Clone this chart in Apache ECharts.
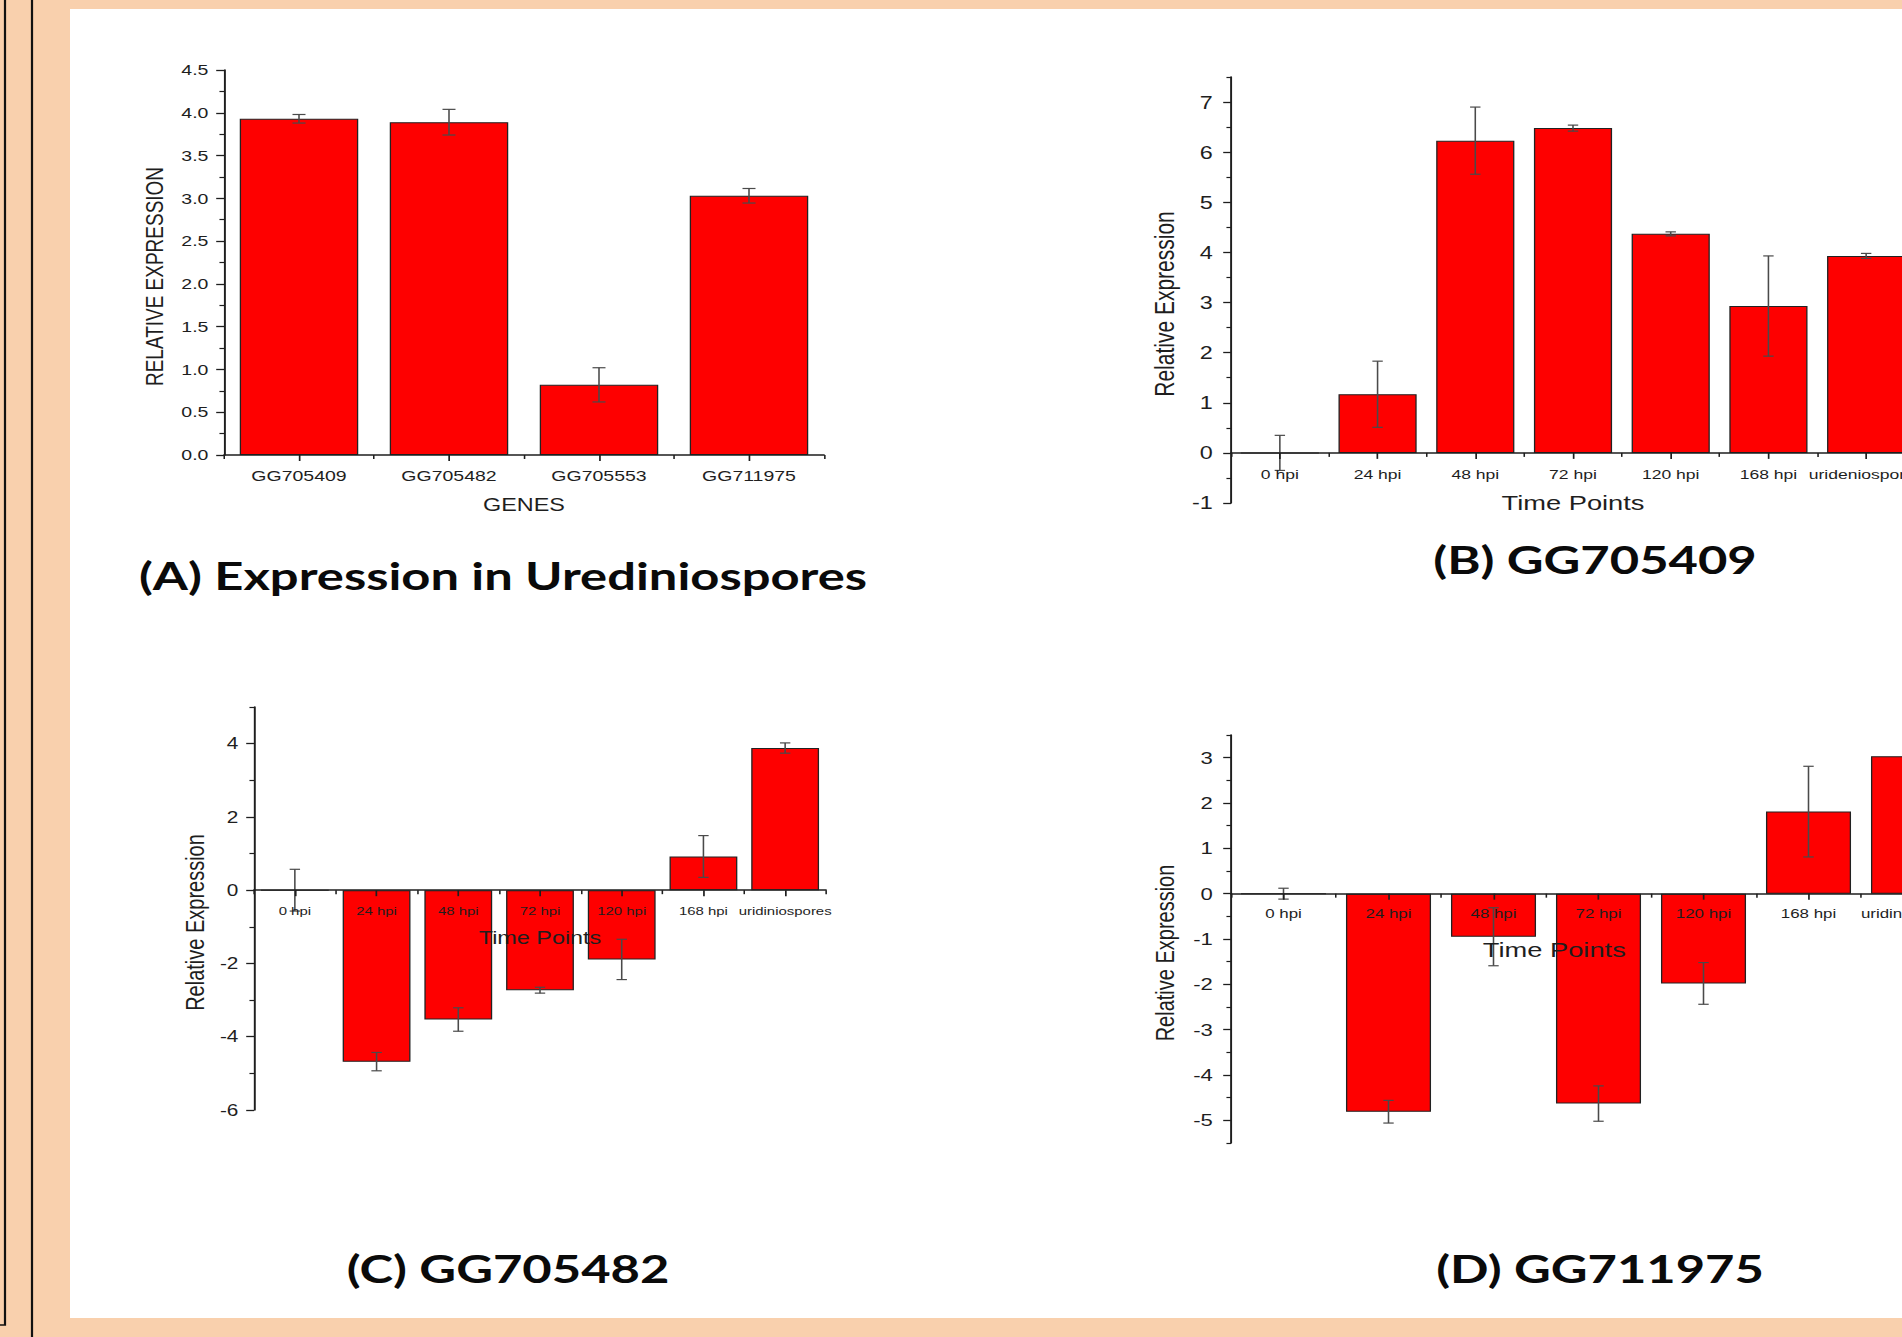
<!DOCTYPE html>
<html>
<head>
<meta charset="utf-8">
<title>Relative expression of candidate genes</title>
<script src="https://cdn.jsdelivr.net/npm/echarts@6/dist/echarts.min.js"></script>
<style>
  html, body { margin: 0; padding: 0; background: #F9D0AD; overflow: hidden; }
  #chart { position: absolute; left: 0; top: 0; }
</style>
</head>
<body>
<div id="chart"></div>
<script>
// ---- (A) expression of each gene in urediniospores ----
const geneNames = ['GG705409', 'GG705482', 'GG705553', 'GG711975'];
const geneExpr  = [3.93, 3.89, 0.82, 3.03];
const geneErr   = [0.05, 0.15, 0.20, 0.085];
const ticksA    = [0, 0.5, 1, 1.5, 2, 2.5, 3, 3.5, 4, 4.5];

// ---- time course categories ----
const timePointsB  = ['0 hpi', '24 hpi', '48 hpi', '72 hpi', '120 hpi', '168 hpi', 'urideniospores'];
const timePointsCD = ['0 hpi', '24 hpi', '48 hpi', '72 hpi', '120 hpi', '168 hpi', 'uridiniospores'];

// ---- (B) GG705409 ----
const exprB  = [0, 1.17, 6.23, 6.48, 4.37, 2.93, 3.93];
const errB   = [0.35, 0.66, 0.67, 0.06, 0.04, 1.00, 0.05];
const ticksB = [-1, 0, 1, 2, 3, 4, 5, 6, 7];

// ---- (C) GG705482 ----
const exprC  = [0, -4.68, -3.53, -2.73, -1.89, 0.92, 3.88];
const errC   = [0.57, 0.25, 0.32, 0.08, 0.55, 0.57, 0.14];
const ticksC = [-6, -4, -2, 0, 2, 4];

// ---- (D) GG711975 ----
const exprD  = [0, -4.81, -0.95, -4.63, -1.98, 1.81, 3.03];
const errD   = [0.12, 0.25, 0.64, 0.39, 0.46, 1.00, 0.085];
const ticksD = [-5, -4, -3, -2, -1, 0, 1, 2, 3];

// ---- page geometry: the figure is drawn narrow and stretched horizontally ----
const K = 1.3;
const FULL_W = 1902, FULL_H = 1337;
const W = FULL_W / K;
const sx = v => v / K;

const el = document.getElementById('chart');
el.style.width = W + 'px';
el.style.height = FULL_H + 'px';
el.style.transform = 'scaleX(' + K + ')';
el.style.transformOrigin = '0 0';

const AX = '#1e1e1e';
const TXT = '#1e1e1e';
const FONT = '"Liberation Sans", Arial, sans-serif';

const panels = [
  {
    cats: geneNames, values: geneExpr, errs: geneErr, majors: ticksA, min: 0, max: 4.5,
    fmt: v => v.toFixed(1),
    rect: { left: sx(224), top: 70, width: sx(600), height: 385 },
    barWidth: '79%', cap: 10,
    tickFont: 15, yLabelMargin: 12, catFont: 15, catMargin: 13,
    xName: 'GENES', xNameFont: 18, xNameGap: 41, xNamePad: 0,
    yName: 'RELATIVE EXPRESSION', yNameFont: 19, yNameGap: 44
  },
  {
    cats: timePointsB, values: exprB, errs: errB, majors: ticksB, min: -1, max: 7.5,
    fmt: v => String(v),
    rect: { left: sx(1231), top: 77, width: sx(684), height: 426 },
    barWidth: '80%', cap: 8,
    tickFont: 18, yLabelMargin: 14, catFont: 13.5, catMargin: 14,
    xName: 'Time Points', xNameFont: 21, xNameGap: 39, xNamePad: 0,
    yName: 'Relative Expression', yNameFont: 21, yNameGap: 41
  },
  {
    cats: timePointsCD, values: exprC, errs: errC, majors: ticksC, min: -6, max: 5,
    fmt: v => String(v),
    rect: { left: sx(254), top: 707, width: sx(572), height: 403 },
    barWidth: '83%', cap: 8,
    tickFont: 16, yLabelMargin: 12, catFont: 11.5, catMargin: 15,
    xName: 'Time Points', xNameFont: 18, xNameGap: 38, xNamePad: 0,
    yName: 'Relative Expression', yNameFont: 20, yNameGap: 35
  },
  {
    cats: timePointsCD, values: exprD, errs: errD, majors: ticksD, min: -5.5, max: 3.5,
    fmt: v => String(v),
    rect: { left: sx(1231), top: 735, width: sx(735), height: 408 },
    barWidth: '81%', cap: 8,
    tickFont: 17, yLabelMargin: 14, catFont: 13, catMargin: 13,
    xName: 'Time Points', xNameFont: 21, xNameGap: 45, xNamePad: 68,
    yName: 'Relative Expression', yNameFont: 20, yNameGap: 41
  }
];

// short ticks half way between labelled ticks, plus the axis ends
function minorsOf(majors, min, max) {
  const out = [];
  for (let i = 0; i < majors.length - 1; i++) out.push((majors[i] + majors[i + 1]) / 2);
  if (min < majors[0]) out.unshift(min);
  if (max > majors[majors.length - 1]) out.push(max);
  return out;
}

function errorSeries(axisIndex, values, errs, cap) {
  return {
    type: 'custom',
    xAxisIndex: axisIndex,
    yAxisIndex: axisIndex,
    z: 5,
    silent: true,
    data: values.map((v, i) => [i, v - errs[i], v + errs[i]]),
    encode: { x: 0, y: [1, 2] },
    renderItem: function (params, api) {
      const lo = api.coord([api.value(0), api.value(1)]);
      const hi = api.coord([api.value(0), api.value(2)]);
      const h = cap / 2;
      const st = { stroke: '#4a4a4a', lineWidth: 1.2 };
      return {
        type: 'group',
        children: [
          { type: 'line', shape: { x1: hi[0], y1: hi[1], x2: lo[0], y2: lo[1] }, style: st },
          { type: 'line', shape: { x1: hi[0] - h, y1: hi[1], x2: hi[0] + h, y2: hi[1] }, style: st },
          { type: 'line', shape: { x1: lo[0] - h, y1: lo[1], x2: lo[0] + h, y2: lo[1] }, style: st }
        ]
      };
    }
  };
}

const grids = [], xAxes = [], yAxes = [], series = [];

panels.forEach((p, i) => {
  const g = 2 * i, o = 2 * i + 1;
  const gridOpt = Object.assign({ containLabel: false, outerBoundsMode: 'none' }, p.rect);
  grids.push(gridOpt, Object.assign({}, gridOpt));

  // category axis with centred ticks and labels (moved onto the zero line below)
  xAxes.push({
    gridIndex: g, type: 'category', data: p.cats, z: 10, position: 'bottom', offset: 0,
    axisLine: { show: true, onZero: false, lineStyle: { color: AX, width: 1.5 } },
    axisTick: { show: true, alignWithLabel: true, interval: 0, length: 6, lineStyle: { color: AX, width: 1.3 } },
    axisLabel: { interval: 0, margin: p.catMargin, fontSize: p.catFont, color: TXT, fontFamily: FONT },
    splitLine: { show: false },
    name: p.xName, nameLocation: 'middle', nameGap: p.xNameGap, nameMoveOverlap: false,
    nameTextStyle: { fontSize: p.xNameFont, color: TXT, fontFamily: FONT, padding: [0, p.xNamePad, 0, 0] }
  });
  // ticks on the category boundaries
  xAxes.push({
    gridIndex: o, type: 'category', data: p.cats, z: 10, position: 'bottom', offset: 0,
    axisLine: { show: false, onZero: false },
    axisTick: { show: true, alignWithLabel: false, interval: 0, length: 4, lineStyle: { color: AX, width: 1.2 } },
    axisLabel: { show: false },
    splitLine: { show: false }
  });

  // value axis with labelled ticks
  yAxes.push({
    gridIndex: g, type: 'value', min: p.min, max: p.max, z: 10,
    axisLine: { show: true, onZero: false, lineStyle: { color: AX, width: 1.5 } },
    axisTick: { show: true, customValues: p.majors, length: 6, lineStyle: { color: AX, width: 1.3 } },
    axisLabel: {
      customValues: p.majors, formatter: p.fmt, margin: p.yLabelMargin,
      fontSize: p.tickFont, color: TXT, fontFamily: FONT
    },
    splitLine: { show: false },
    name: p.yName, nameLocation: 'middle', nameGap: p.yNameGap,
    nameTextStyle: { fontSize: p.yNameFont, color: TXT, fontFamily: FONT, padding: [0, 28, 0, 0] }
  });
  // short unlabelled ticks
  yAxes.push({
    gridIndex: o, type: 'value', min: p.min, max: p.max, z: 10,
    axisLine: { show: false },
    axisTick: { show: true, customValues: minorsOf(p.majors, p.min, p.max), length: 3.5, lineStyle: { color: AX, width: 1.2 } },
    axisLabel: { show: false },
    splitLine: { show: false }
  });

  series.push({
    type: 'bar', xAxisIndex: g, yAxisIndex: g, z: 2,
    data: p.values, barWidth: p.barWidth, silent: true,
    itemStyle: { color: '#FE0000', borderColor: '#222', borderWidth: 1 }
  });
  series.push(errorSeries(g, p.values, p.errs, p.cap));
});

const titleFont = 'bold 39px Lato, "Open Sans", sans-serif';
const panelTitles = [
  { text: '(A) Expression in Urediniospores', x: sx(503), y: 575 },
  { text: '(B) GG705409', x: sx(1595), y: 559 },
  { text: '(C) GG705482', x: sx(508), y: 1268 },
  { text: '(D) GG711975', x: sx(1600), y: 1268 }
];

const graphics = [
  // white sheet
  { type: 'rect', z: -5, shape: { x: sx(70), y: 9, width: W - sx(70), height: 1309 }, style: { fill: '#ffffff' } },
  // frame lines at the left margin
  { type: 'polyline', z: -4, shape: { points: [[sx(5), 0], [sx(5), 1325], [0, 1325]] },
    style: { stroke: '#111', lineWidth: 1.7, fill: null } },
  { type: 'line', z: -4, shape: { x1: sx(32), y1: 0, x2: sx(32), y2: FULL_H },
    style: { stroke: '#111', lineWidth: 1.7 } }
].concat(panelTitles.map(t => ({
  type: 'text', z: 20, x: t.x, y: t.y,
  style: { text: t.text, font: titleFont, fill: '#0a0a0a', align: 'center', verticalAlign: 'middle' }
})));

const chart = echarts.init(el, null, { renderer: 'svg' });
chart.setOption({
  backgroundColor: '#F9D0AD',
  animation: false,
  graphic: { elements: graphics },
  grid: grids,
  xAxis: xAxes,
  yAxis: yAxes,
  series: series
});

// lift each category axis onto the zero line of its value axis
chart.setOption({
  xAxis: xAxes.map((ax, j) => {
    const r = panels[Math.floor(j / 2)].rect;
    const zeroY = chart.convertToPixel({ yAxisIndex: j }, 0);
    return { offset: zeroY - (r.top + r.height) };
  })
});
</script>
</body>
</html>
